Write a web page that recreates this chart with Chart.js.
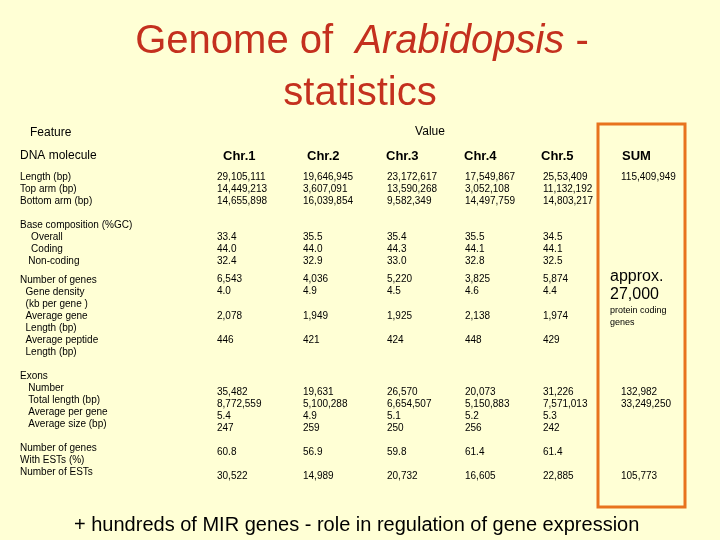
<!DOCTYPE html>
<html>
<head>
<meta charset="UTF-8">
<script src="https://cdn.jsdelivr.net/npm/chart.js"></script>
<style>
  body { margin: 0; background: #FFFFD5; }
  #wrap { width: 720px; height: 540px; position: relative; }
</style>
</head>
<body>
<div id="wrap"><canvas id="c"></canvas></div>
<script>
// table content
const rowLabels = [
  "Length (bp)", "Top arm (bp)", "Bottom arm (bp)", "",
  "Base composition (%GC)", "    Overall", "    Coding", "   Non-coding",
  "Number of genes", "  Gene density", "  (kb per gene )", "  Average gene", "  Length (bp)",
  "  Average peptide", "  Length (bp)", "",
  "Exons", "   Number", "   Total length (bp)", "   Average per gene", "   Average size (bp)", "",
  "Number of genes", "With ESTs (%)", "Number of ESTs"
];
const columns = ["Chr.1", "Chr.2", "Chr.3", "Chr.4", "Chr.5", "SUM"];
const chr1 = ["29,105,111", "14,449,213", "14,655,898", "33.4", "44.0", "32.4", "6,543", "4.0", "2,078", "446", "35,482", "8,772,559", "5.4", "247", "60.8", "30,522"];
const chr2 = ["19,646,945", "3,607,091", "16,039,854", "35.5", "44.0", "32.9", "4,036", "4.9", "1,949", "421", "19,631", "5,100,288", "4.9", "259", "56.9", "14,989"];
const chr3 = ["23,172,617", "13,590,268", "9,582,349", "35.4", "44.3", "33.0", "5,220", "4.5", "1,925", "424", "26,570", "6,654,507", "5.1", "250", "59.8", "20,732"];
const chr4 = ["17,549,867", "3,052,108", "14,497,759", "35.5", "44.1", "32.8", "3,825", "4.6", "2,138", "448", "20,073", "5,150,883", "5.2", "256", "61.4", "16,605"];
const chr5 = ["25,53,409", "11,132,192", "14,803,217", "34.5", "44.1", "32.5", "5,874", "4.4", "1,974", "429", "31,226", "7,571,013", "5.3", "242", "61.4", "22,885"];
const sum = ["115,409,949", "", "", "", "", "", "", "", "", "", "132,982", "33,249,250", "", "", "", "105,773"];

// layout (pixel coordinates used as axis values)
const labelY = [177, 189, 201, 213, 225, 237, 249, 261, 280, 292, 304, 316, 328, 340, 352, 364, 376, 388, 400, 412, 424, 436, 448, 460, 472];
const valueY = [177, 189, 201, 237, 249, 261, 279, 291, 316, 340, 392, 404, 416, 428, 452, 476];
const colX = [217, 303, 387, 465, 543, 621];
const headX = [223, 307, 386, 464, 541, 622];

const colData = [chr1, chr2, chr3, chr4, chr5, sum];
const datasets = colData.map((vals, i) => ({
  label: columns[i],
  data: vals.map((t, j) => ({ x: colX[i], y: valueY[j], t })),
  pointRadius: 0, showLine: false
}));
datasets.push({
  label: "labels",
  data: rowLabels.map((t, j) => ({ x: 20, y: labelY[j], t })),
  pointRadius: 0, showLine: false
});

const tablePlugin = {
  id: "table",
  afterDraw(chart) {
    const ctx = chart.ctx, xs = chart.scales.x, ys = chart.scales.y;
    const X = v => xs.getPixelForValue(v), Y = v => ys.getPixelForValue(v);
    ctx.save();
    ctx.textBaseline = "middle";
    // title
    ctx.fillStyle = "#C4301E";
    ctx.textAlign = "left";
    const a = "Genome of  ", b = "Arabidopsis", c = " -";
    ctx.font = "40px 'Liberation Sans'"; const wa = ctx.measureText(a).width, wc = ctx.measureText(c).width;
    ctx.font = "italic 40px 'Liberation Sans'"; const wb = ctx.measureText(b).width;
    let sx = X(362) - (wa + wb + wc) / 2;
    ctx.font = "40px 'Liberation Sans'"; ctx.fillText(a, sx, Y(42));
    ctx.font = "italic 40px 'Liberation Sans'"; ctx.fillText(b, sx + wa, Y(42));
    ctx.font = "40px 'Liberation Sans'"; ctx.fillText(c, sx + wa + wb, Y(42));
    ctx.textAlign = "center";
    ctx.fillText("statistics", X(360), Y(94));
    // headers
    ctx.fillStyle = "#000";
    ctx.font = "12px 'Liberation Sans'";
    ctx.textAlign = "left"; ctx.fillText("Feature", X(30), Y(133));
    ctx.textAlign = "center"; ctx.fillText("Value", X(430), Y(132));
    ctx.textAlign = "left";
    ctx.fillText("DNA molecule", X(20), Y(156));
    ctx.font = "bold 13px 'Liberation Sans'";
    columns.forEach((h, i) => ctx.fillText(h, X(headX[i]), Y(156)));
    // cells
    ctx.font = "10px 'Liberation Sans'";
    chart.data.datasets.forEach(ds => ds.data.forEach(p => {
      if (p.t) ctx.fillText(p.t, X(p.x), Y(p.y));
    }));
    // SUM note
    ctx.font = "16px 'Liberation Sans'";
    ctx.fillText("approx.", X(610), Y(277));
    ctx.fillText("27,000", X(610), Y(295));
    ctx.font = "9px 'Liberation Sans'";
    ctx.fillText("protein coding", X(610), Y(311));
    ctx.fillText("genes", X(610), Y(323));
    // orange box
    ctx.strokeStyle = "#E8731E"; ctx.lineWidth = 3;
    ctx.strokeRect(X(598), Y(124), X(685) - X(598), Y(507) - Y(124));
    // footer
    ctx.fillStyle = "#000";
    ctx.font = "20px 'Liberation Sans'";
    ctx.fillText("+ hundreds of MIR genes - role in regulation of gene expression", X(74), Y(525));
    ctx.restore();
  }
};

new Chart(document.getElementById("c"), {
  type: "scatter",
  data: { datasets },
  options: {
    responsive: true, maintainAspectRatio: false, animation: false,
    layout: { padding: 0 },
    plugins: { legend: { display: false }, tooltip: { enabled: false } },
    scales: {
      x: { type: "linear", min: 0, max: 720, display: false },
      y: { type: "linear", min: 0, max: 540, reverse: true, display: false }
    }
  },
  plugins: [tablePlugin]
});
</script>
</body>
</html>
